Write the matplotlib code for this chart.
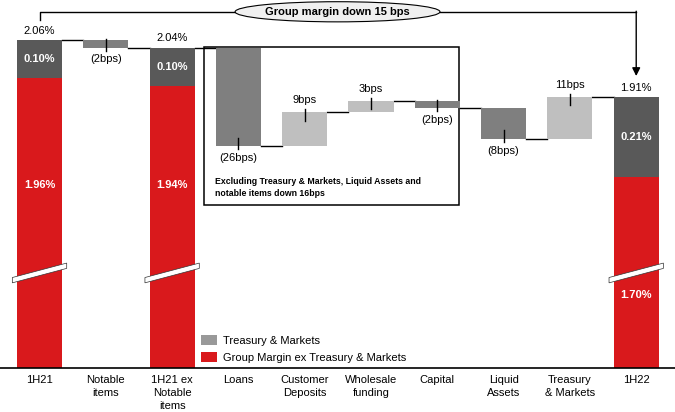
import matplotlib.pyplot as plt
from matplotlib.patches import Ellipse, Polygon, Patch, Rectangle

plt.rcParams['font.family'] = ['Liberation Sans', 'DejaVu Sans']

categories = ['1H21', 'Notable\nitems', '1H21 ex\nNotable\nitems', 'Loans', 'Customer\nDeposits',
              'Wholesale\nfunding', 'Capital', 'Liquid\nAssets', 'Treasury\n& Markets', '1H22']
# stacked totals: (index, group margin ex T&M, T&M)
total_idx = [0, 2, 9]
group_ex_tm = [1.96, 1.94, 1.70]
treasury = [0.10, 0.10, 0.21]
total_labels = ['2.06%', '2.04%', '1.91%']
# waterfall steps in bps
step_idx = [1, 3, 4, 5, 6, 7, 8]
step_bps = [-2, -26, 9, 3, -2, -8, 11]

RED = '#d9191c'
DARK = '#595959'
MID = '#7f7f7f'
LIGHT = '#bfbfbf'

fig = plt.figure(figsize=(6.75, 4.12), dpi=100)
ax = fig.add_axes([0, 44 / 412, 1, 368 / 412])
ax.set_xlim(-0.596, 9.585)
ax.set_ylim(1.197, 2.165)
W = 0.68

# stacked total bars
for i, g, t, lab in zip(total_idx, group_ex_tm, treasury, total_labels):
    ax.bar(i, g, W, color=RED, zorder=2)
    ax.bar(i, t, W, bottom=g, color=DARK, zorder=2)
    ax.text(i, g + t / 2, f'{t:.2f}%', color='white', fontweight='bold', fontsize=8,
            ha='center', va='center', zorder=4)
    ax.annotate(lab, (i, g + t), xytext=(0, 3), textcoords='offset points',
                ha='center', va='bottom', fontsize=8)

# red labels (above / below the break)
red_label_y = [1.679, 1.679, 1.389]
for i, g, y in zip(total_idx, group_ex_tm, red_label_y):
    ax.text(i, y, f'{g:.2f}%', color='white', fontweight='bold', fontsize=8,
            ha='center', va='center', zorder=4)

# break marks
for i in total_idx:
    x0, x1 = i - 0.41, i + 0.41
    yl, yr, th = 1.428, 1.466, 0.014
    ax.add_patch(Polygon([(x0, yl - th / 2), (x1, yr - th / 2), (x1, yr + th / 2), (x0, yl + th / 2)],
                         closed=True, facecolor='white', edgecolor='#333333', lw=0.5, zorder=3))

# waterfall
level = group_ex_tm[0] + treasury[0]
prev_right = 0 + W / 2
for i, bps in zip(step_idx, step_bps):
    d = bps / 100
    if i == 3:
        level = group_ex_tm[1] + treasury[1]
    start, end = level, level + d
    ax.plot([prev_right, i - W / 2], [start, start], color='black', lw=1, zorder=1)
    ax.bar(i, abs(d), W, bottom=min(start, end), color=MID if d < 0 else LIGHT, zorder=2)
    lab = f'({abs(bps)}bps)' if bps < 0 else f'{bps}bps'
    if d < 0:
        ax.plot([i, i], [end - 0.008, end + 0.022], color='black', lw=1, zorder=3)
        ax.annotate(lab, (i, end), xytext=(0, -5), textcoords='offset points',
                    ha='center', va='top', fontsize=8)
    else:
        ax.plot([i, i], [end - 0.022, end + 0.008], color='black', lw=1, zorder=3)
        ax.annotate(lab, (i, end), xytext=(0, 5), textcoords='offset points',
                    ha='center', va='bottom', fontsize=8)
    level = end
    prev_right = i + W / 2
    if i == 1:
        ax.plot([i + W / 2, 2 - W / 2], [end, end], color='black', lw=1, zorder=1)
        prev_right = 2 + W / 2
ax.plot([prev_right, 9 - W / 2], [level, level], color='black', lw=1, zorder=1)

# box around core drivers
ax.add_patch(Rectangle((2.481, 1.626), 6.327 - 2.481, 2.042 - 1.626, fill=False,
                       edgecolor='black', lw=1.1, zorder=1))
ax.text(2.64, 1.672, 'Excluding Treasury & Markets, Liquid Assets and\nnotable items down 16bps',
        fontsize=6.3, fontweight='bold', ha='left', va='center', linespacing=1.45)

# group margin annotation
ey = 2.134
ax.add_patch(Ellipse((4.495, ey), 3.09, 0.053, facecolor='#f0f0f0', edgecolor='black', lw=0.8, zorder=5))
ax.text(4.495, ey, 'Group margin down 15 bps', fontsize=8, fontweight='bold',
        ha='center', va='center', zorder=6)
ax.plot([0, 0, 4.495 - 1.545], [2.113, ey, ey], color='black', lw=1, zorder=4)
ax.plot([4.495 + 1.545, 9], [ey, ey], color='black', lw=1, zorder=4)
ax.annotate('', xy=(9, 1.965), xytext=(9, ey + 0.0015),
            arrowprops=dict(arrowstyle='-|>', color='black', lw=1, mutation_scale=12,
                            shrinkA=0, shrinkB=0), zorder=4)

# legend
handles = [Patch(facecolor='#999999'), Patch(facecolor=RED)]
ax.legend(handles, ['Treasury & Markets', 'Group Margin ex Treasury & Markets'],
          loc='lower left', bbox_to_anchor=(201 / 675, 5 / 368), frameon=False, fontsize=8,
          handlelength=1.45, handleheight=1.0, handletextpad=0.55, labelspacing=0.6,
          borderpad=0, borderaxespad=0)

ax.set_xticks(range(len(categories)))
ax.set_xticklabels(categories, fontsize=8, linespacing=1.4)
ax.tick_params(axis='x', length=0, pad=5)
ax.set_yticks([])
for s in ['top', 'left', 'right']:
    ax.spines[s].set_visible(False)
ax.spines['bottom'].set_linewidth(1.2)

fig.savefig('out.png', dpi=100)
